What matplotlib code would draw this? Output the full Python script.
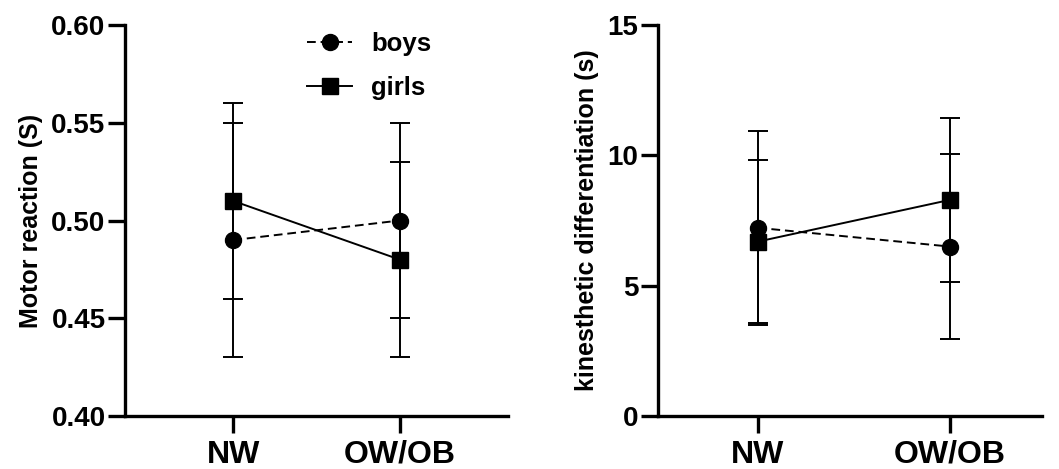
import matplotlib
matplotlib.use('Agg')
import matplotlib.pyplot as plt

plt.rcParams['font.family'] = ['Liberation Sans', 'DejaVu Sans']
plt.rcParams['font.weight'] = 'bold'

groups = ['NW', 'OW/OB']

motor_boys = [0.49, 0.50]
motor_boys_err = [0.06, 0.05]
motor_girls = [0.51, 0.48]
motor_girls_err = [0.05, 0.05]

kin_boys = [7.22, 6.50]
kin_boys_err = [3.72, 3.55]
kin_girls = [6.69, 8.29]
kin_girls_err = [3.14, 3.15]

fig = plt.figure(figsize=(10.59, 4.69), dpi=100)
ax1 = fig.add_axes([125 / 1059, 1 - 416 / 469, 383 / 1059, 391 / 469])
ax2 = fig.add_axes([658 / 1059, 1 - 416 / 469, 384 / 1059, 391 / 469])

x = list(range(len(groups)))


def draw(ax, boys, boys_err, girls, girls_err):
    b = ax.errorbar(x, boys, yerr=boys_err, color='black', linestyle=(0, (4.5, 2.5)),
                    linewidth=1.4, marker='o', markersize=11.5, capsize=7, capthick=1.4,
                    elinewidth=1.4, label='boys')
    g = ax.errorbar(x, girls, yerr=girls_err, color='black', linestyle='-',
                    linewidth=1.4, marker='s', markersize=11, capsize=7, capthick=1.4,
                    elinewidth=1.4, label='girls')
    ax.set_xticks(x)
    ax.set_xticklabels(groups, fontsize=23, fontweight='bold')
    for s in ['top', 'right']:
        ax.spines[s].set_visible(False)
    for s in ['left', 'bottom']:
        ax.spines[s].set_linewidth(2.4)
    ax.tick_params(axis='both', width=2.4, length=12)
    ax.tick_params(axis='y', labelsize=20, pad=2)
    ax.tick_params(axis='x', pad=5)
    return b, g


b1, g1 = draw(ax1, motor_boys, motor_boys_err, motor_girls, motor_girls_err)
ax1.set_xlim(-0.65, 1.65)
ax1.set_ylim(0.40, 0.60)
ax1.set_yticks([0.40, 0.45, 0.50, 0.55, 0.60])
ax1.set_yticklabels(['0.40', '0.45', '0.50', '0.55', '0.60'], fontweight='bold')
ax1.set_ylabel('Motor reaction (S)', fontsize=18, fontweight='bold', labelpad=6)
ax1.legend(handles=[b1[0], g1[0]], labels=['boys', 'girls'], loc='upper left',
           bbox_to_anchor=(0.415, 1.04), frameon=False, fontsize=18.5,
           handlelength=1.75, labelspacing=0.75, handletextpad=0.75)

draw(ax2, kin_boys, kin_boys_err, kin_girls, kin_girls_err)
ax2.set_xlim(-0.52, 1.48)
ax2.set_ylim(0, 15)
ax2.set_yticks([0, 5, 10, 15])
ax2.set_yticklabels(['0', '5', '10', '15'], fontweight='bold')
ax2.set_ylabel('kinesthetic differentiation (s)', fontsize=18, fontweight='bold', labelpad=6)

fig.savefig('out.png', dpi=100)
